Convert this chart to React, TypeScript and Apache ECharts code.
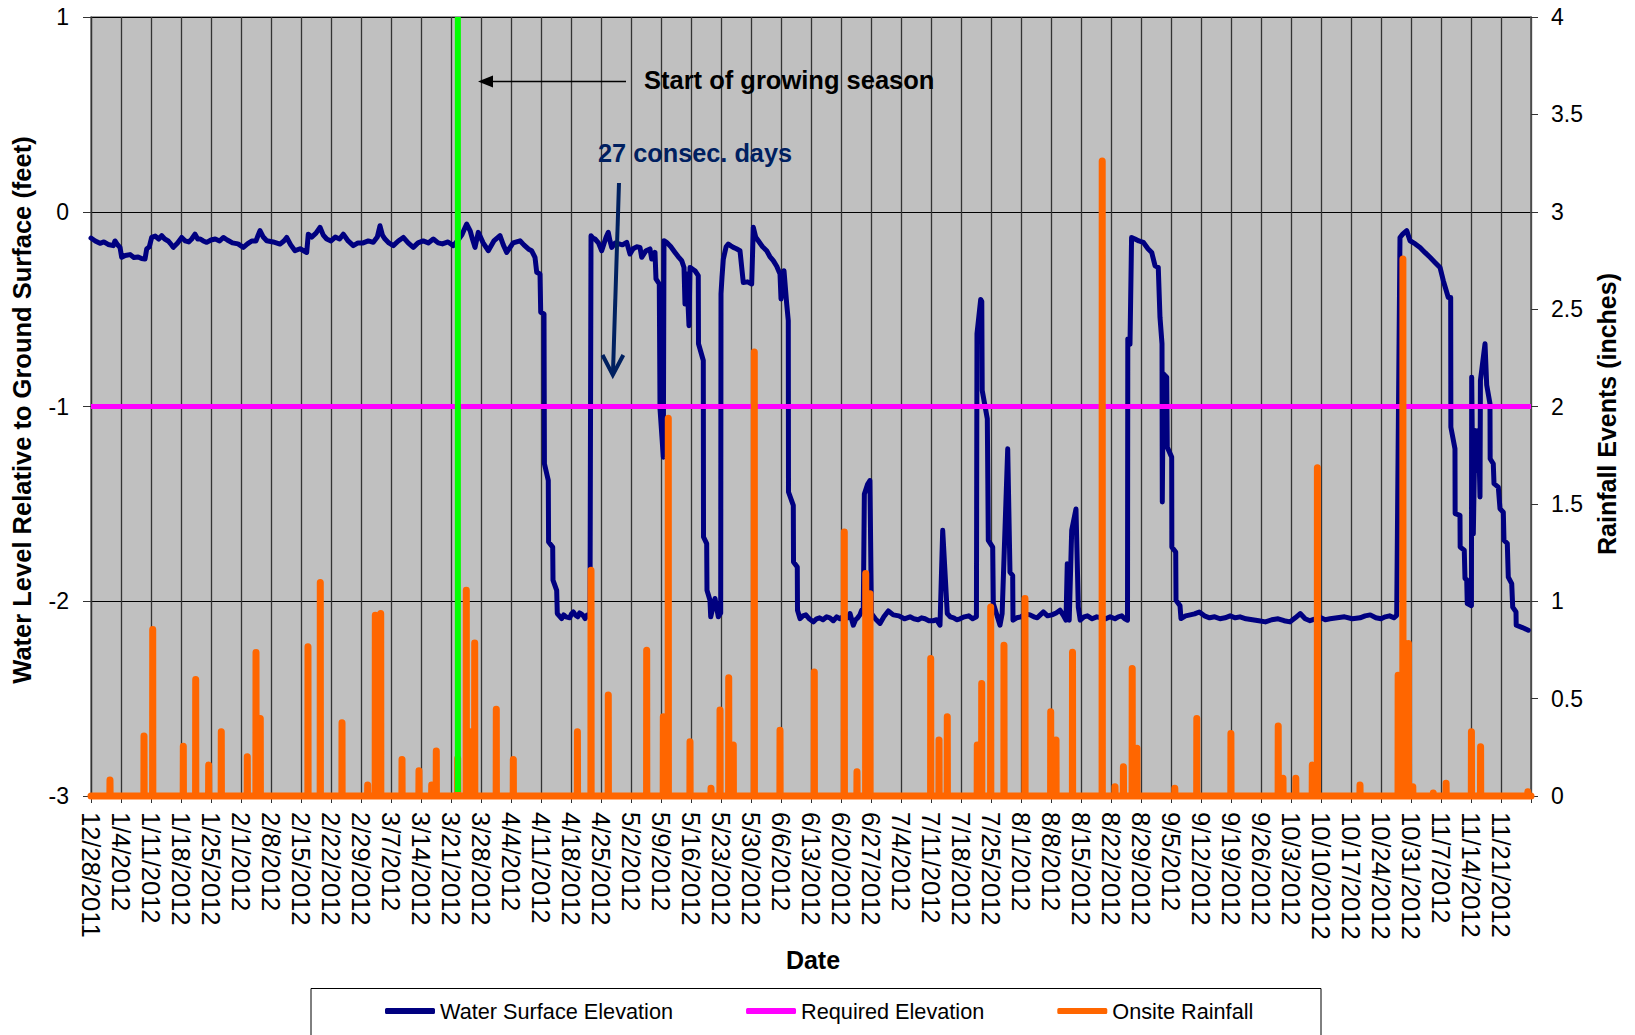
import React, { useEffect, useRef } from "react";
import * as echarts from "echarts";

// Tick labels: one per week, starting 12/28/2011
const weekLabels = [
  "12/28/2011", "1/4/2012", "1/11/2012", "1/18/2012", "1/25/2012", "2/1/2012", "2/8/2012",
  "2/15/2012", "2/22/2012", "2/29/2012", "3/7/2012", "3/14/2012", "3/21/2012", "3/28/2012",
  "4/4/2012", "4/11/2012", "4/18/2012", "4/25/2012", "5/2/2012", "5/9/2012", "5/16/2012",
  "5/23/2012", "5/30/2012", "6/6/2012", "6/13/2012", "6/20/2012", "6/27/2012", "7/4/2012",
  "7/11/2012", "7/18/2012", "7/25/2012", "8/1/2012", "8/8/2012", "8/15/2012", "8/22/2012",
  "8/29/2012", "9/5/2012", "9/12/2012", "9/19/2012", "9/26/2012", "10/3/2012", "10/10/2012",
  "10/17/2012", "10/24/2012", "10/31/2012", "11/7/2012", "11/14/2012", "11/21/2012",
];
const axisDayMax = 336; // days after 12/28/2011 shown on the axis

// Water surface elevation: [days after 12/28/2011, feet relative to ground]
const waterLevel: [number, number][] = [
  [0, -0.135], [1.0, -0.15], [2.1, -0.162], [3.0, -0.155], [4.0, -0.168], [5.2, -0.174], [5.6, -0.15],
  [6.2, -0.17], [6.77, -0.183], [7.16, -0.234], [8.0, -0.225], [9.1, -0.22], [10.0, -0.235],
  [11.0, -0.232], [11.8, -0.24], [12.6, -0.243], [13.0, -0.191], [13.6, -0.18], [14.16, -0.132],
  [15.0, -0.125], [15.8, -0.14], [16.5, -0.123], [17.2, -0.14], [18.0, -0.15], [18.6, -0.165],
  [19.2, -0.183], [20.2, -0.16], [21.16, -0.132], [22.0, -0.15], [22.8, -0.155], [23.5, -0.14],
  [24.27, -0.115], [24.9, -0.14], [25.5, -0.14], [26.2, -0.15], [27.0, -0.157], [28.0, -0.145],
  [29.0, -0.14], [30.0, -0.15], [30.87, -0.132], [31.8, -0.145], [33.0, -0.16], [34.3, -0.165],
  [35.54, -0.183], [36.5, -0.165], [37.5, -0.15], [38.5, -0.15], [39.0, -0.12], [39.43, -0.097],
  [40.2, -0.13], [41.0, -0.149], [42.5, -0.155], [44.1, -0.166], [45.0, -0.15], [45.66, -0.132],
  [46.6, -0.17], [47.6, -0.2], [48.8, -0.19], [50.33, -0.209], [50.7, -0.115], [51.5, -0.13],
  [52.5, -0.11], [53.43, -0.08], [54.2, -0.12], [55.0, -0.14], [56.0, -0.15], [57.0, -0.13],
  [58.0, -0.14], [58.87, -0.115], [60.0, -0.15], [61.2, -0.174], [62.3, -0.16], [63.5, -0.16],
  [64.7, -0.15], [65.87, -0.157], [66.8, -0.13], [67.43, -0.072], [68.0, -0.12], [68.6, -0.14],
  [69.5, -0.16], [70.54, -0.174], [71.7, -0.15], [72.87, -0.132], [74.0, -0.16], [75.2, -0.183],
  [76.3, -0.16], [77.5, -0.15], [78.7, -0.16], [79.87, -0.14], [81.0, -0.16], [82.0, -0.165],
  [83.3, -0.155], [84.54, -0.174], [85.5, -0.15], [86.5, -0.12], [87.66, -0.063], [88.5, -0.1],
  [89.0, -0.14], [89.6, -0.183], [90.37, -0.106], [91.5, -0.16], [92.7, -0.2], [94.0, -0.15],
  [95.43, -0.123], [96.2, -0.17], [97.0, -0.209], [98.5, -0.16], [100.1, -0.149], [101.0, -0.17],
  [102.04, -0.191], [102.8, -0.2], [103.6, -0.234], [104.0, -0.311], [104.77, -0.32],
  [104.93, -0.516], [105.7, -0.525], [105.8, -1.294], [106.7, -1.379], [106.77, -1.696],
  [107.73, -1.722], [107.8, -1.892], [108.66, -1.944], [108.8, -2.063], [109.83, -2.089],
  [110.3, -2.07], [110.8, -2.08], [111.7, -2.085], [112.1, -2.065], [112.54, -2.055], [113.0, -2.07],
  [113.6, -2.08], [114.0, -2.06], [114.4, -2.065], [114.9, -2.075], [115.27, -2.089], [115.8, -2.07],
  [116.43, -2.07], [116.67, -0.123], [117.1, -0.135], [117.6, -0.14], [118.4, -0.16], [119.16, -0.2],
  [119.6, -0.17], [120.2, -0.13], [120.7, -0.106], [121.1, -0.15], [121.5, -0.183], [122.3, -0.16],
  [123.2, -0.165], [124.0, -0.17], [125.0, -0.157], [125.77, -0.217], [126.5, -0.19], [127.3, -0.18],
  [128.1, -0.183], [128.5, -0.234], [129.5, -0.2], [130.43, -0.191], [130.83, -0.243],
  [131.6, -0.209], [131.83, -0.345], [132.6, -0.371], [132.77, -1.012], [133.54, -1.26],
  [133.7, -0.149], [134.33, -0.157], [135.3, -0.18], [136.27, -0.209], [137.0, -0.23],
  [137.83, -0.251], [138.37, -0.286], [138.6, -0.474], [139.0, -0.32], [139.53, -0.585],
  [139.77, -0.286], [140.93, -0.303], [141.7, -0.328], [141.75, -0.678], [142.87, -0.764],
  [142.92, -1.67], [143.66, -1.704], [143.73, -1.944], [144.43, -1.995], [144.6, -2.08],
  [145.6, -1.986], [146.37, -2.08], [146.93, -2.06], [147.0, -0.422], [147.23, -0.337],
  [147.54, -0.243], [148.2, -0.18], [148.7, -0.166], [149.3, -0.175], [149.87, -0.183],
  [150.6, -0.19], [151.43, -0.2], [152.2, -0.363], [153.2, -0.36], [154.16, -0.371], [154.54, -0.08],
  [155.1, -0.13], [155.7, -0.149], [156.7, -0.18], [157.66, -0.2], [158.4, -0.23], [159.2, -0.251],
  [160.0, -0.28], [160.77, -0.32], [161.0, -0.448], [161.7, -0.303], [162.33, -0.474],
  [162.7, -0.559], [162.75, -1.439], [163.87, -1.508], [163.92, -1.798], [164.8, -1.824],
  [164.85, -2.046], [165.43, -2.089], [166.1, -2.075], [166.8, -2.07], [167.6, -2.09],
  [168.54, -2.106], [169.3, -2.09], [170.0, -2.085], [170.8, -2.095], [171.66, -2.08],
  [172.4, -2.085], [173.2, -2.1], [174.0, -2.08], [174.77, -2.09], [175.4, -2.08], [176.0, -2.075],
  [176.6, -2.085], [177.1, -2.063], [177.87, -2.123], [178.4, -2.095], [178.9, -2.085],
  [179.4, -2.07], [179.83, -2.046], [180.2, -2.05], [180.45, -1.45], [181.2, -1.4], [181.75, -1.38],
  [182.1, -2.063], [183.0, -2.09], [184.1, -2.114], [185.0, -2.08], [186.04, -2.05], [187.2, -2.07],
  [188.5, -2.075], [189.8, -2.09], [191.1, -2.08], [192.0, -2.09], [193.0, -2.095], [193.8, -2.085],
  [194.6, -2.09], [195.5, -2.1], [196.5, -2.1], [197.3, -2.095], [198.1, -2.123], [198.73, -1.636],
  [199.8, -2.063], [200.5, -2.08], [201.3, -2.085], [202.0, -2.095], [202.77, -2.09], [203.8, -2.08],
  [204.8, -2.075], [205.7, -2.09], [206.6, -2.08], [206.73, -0.627], [207.6, -0.45], [207.85, -0.46],
  [207.95, -0.918], [209.14, -1.063], [209.37, -1.687], [210.4, -1.722], [210.54, -2.012],
  [212.1, -2.123], [212.6, -2.063], [213.9, -1.217], [214.43, -1.851], [215.06, -1.868],
  [215.13, -2.097], [216.0, -2.085], [217.0, -2.08], [218.0, -2.065], [219.1, -2.07], [220.0, -2.08],
  [220.8, -2.085], [221.5, -2.07], [222.2, -2.055], [223.2, -2.075], [224.2, -2.07], [225.2, -2.06],
  [226.1, -2.046], [226.8, -2.07], [227.5, -2.097], [227.8, -1.807], [228.25, -2.097],
  [228.83, -1.636], [229.83, -1.526], [230.37, -2.03], [230.82, -2.097], [231.7, -2.08],
  [232.5, -2.075], [233.6, -2.09], [234.67, -2.08], [235.7, -2.085], [236.8, -2.09], [237.8, -2.08],
  [238.93, -2.09], [239.7, -2.08], [240.5, -2.075], [241.2, -2.09], [241.85, -2.097],
  [241.92, -0.653], [242.43, -0.68], [242.8, -0.132], [243.6, -0.14], [244.5, -0.15],
  [245.53, -0.157], [246.63, -0.19], [247.5, -0.209], [248.27, -0.277], [249.03, -0.286],
  [249.43, -0.542], [249.9, -0.678], [249.97, -1.49], [250.2, -0.832], [251.0, -0.85],
  [251.13, -1.209], [252.16, -1.26], [252.2, -1.722], [253.1, -1.747], [253.17, -1.995],
  [254.1, -2.023], [254.33, -2.089], [255.4, -2.075], [256.5, -2.07], [257.5, -2.065],
  [258.6, -2.055], [259.8, -2.075], [261.0, -2.085], [262.2, -2.08], [263.43, -2.09],
  [264.6, -2.085], [265.8, -2.075], [267.0, -2.085], [268.1, -2.08], [269.5, -2.09], [271.0, -2.095],
  [272.5, -2.1], [274.03, -2.106], [275.5, -2.095], [277.0, -2.09], [278.4, -2.1], [279.77, -2.106],
  [281.0, -2.085], [282.15, -2.063], [283.3, -2.09], [284.43, -2.1], [285.7, -2.09], [287.0, -2.085],
  [288.0, -2.095], [289.1, -2.09], [290.8, -2.085], [292.5, -2.08], [294.3, -2.09], [296.1, -2.085],
  [297.3, -2.075], [298.5, -2.07], [299.8, -2.085], [301.0, -2.09], [302.0, -2.08], [303.0, -2.075],
  [304.0, -2.085], [304.66, -2.072], [305.43, -0.132], [306.06, -0.115], [307.0, -0.097],
  [307.77, -0.149], [309.0, -0.165], [310.1, -0.183], [311.3, -0.21], [312.43, -0.234],
  [313.6, -0.26], [314.77, -0.286], [315.54, -0.354], [316.7, -0.44], [317.26, -0.44],
  [317.3, -1.106], [318.26, -1.217], [318.3, -1.55], [319.43, -1.559], [319.47, -1.722],
  [320.43, -1.738], [320.6, -1.883], [321.0, -1.89], [321.13, -2.012], [322.1, -2.023],
  [322.16, -0.85], [322.54, -1.654], [322.93, -1.123], [323.47, -1.328], [323.75, -1.123],
  [324.1, -1.465], [324.2, -0.867], [325.27, -0.678], [325.66, -0.889], [326.43, -0.986],
  [326.47, -1.268], [327.2, -1.294], [327.37, -1.396], [328.37, -1.414], [328.77, -1.525],
  [329.54, -1.543], [329.7, -1.687], [330.47, -1.704], [330.7, -1.876], [331.5, -1.91],
  [331.73, -2.03], [332.5, -2.055], [332.55, -2.123], [334.0, -2.135], [335.37, -2.149],
];

// Onsite rainfall events (inches), x in days after 12/28/2011
const rainDay = [
  4.43, 12.37, 14.4, 21.54, 24.43, 27.46, 30.4, 36.47, 38.5, 39.5, 50.63, 53.5, 58.57, 64.56, 66.34,
  67.6, 72.57, 76.53, 79.5, 80.57, 85.56, 87.57, 88.43, 89.53, 94.57, 98.54, 113.5, 116.67, 120.7,
  129.66, 133.54, 134.7, 139.77, 144.67, 146.77, 148.8, 149.87, 154.77, 160.77, 168.77, 175.77,
  178.73, 180.77, 181.77, 195.93, 197.87, 199.8, 206.8, 207.83, 209.93, 213.03, 217.93, 223.93,
  225.17, 229.02, 235.95, 238.93, 240.9, 242.95, 244.07, 252.89, 258.02, 265.98, 277.02, 278.13,
  281.12, 284.97, 286.16, 296.1, 305.0, 306.11, 307.4, 308.42, 313.2, 316.19, 322.1, 324.24, 335.27,
];
const rainIn = [
  0.082, 0.308, 0.855, 0.256, 0.598, 0.159, 0.33, 0.202, 0.737, 0.398, 0.766, 1.096, 0.376, 0.056, 0.928,
  0.937, 0.188, 0.13, 0.056, 0.231, 0.193, 1.056, 0.33, 0.786, 0.446, 0.188, 0.33, 1.159, 0.518,
  0.749, 0.407, 1.94, 0.279, 0.04, 0.441, 0.607, 0.262, 2.28, 0.338, 0.637, 1.355,
  0.125, 1.142, 1.039, 0.706, 0.287, 0.407, 0.262, 0.578, 0.971, 0.774, 1.014, 0.432,
  0.287, 0.738, 3.26, 0.048, 0.15, 0.655, 0.245, 0.04, 0.398, 0.321, 0.359, 0.091,
  0.091, 0.159, 1.686, 0.056, 0.62, 2.757, 0.783, 0.048, 0.015, 0.065, 0.33, 0.253, 0.022,
];

// Required elevation (feet)
const requiredDay = [0, axisDayMax];
const requiredFt = [-1, -1];

// Start of growing season marker
const growingSeasonDay = [85.6, 85.6];
const growingSeasonFt = [-2.98, 1];

const FONT = "'Liberation Sans', Arial, Helvetica, sans-serif";

export default function App() {
  const ref = useRef<HTMLDivElement | null>(null);

  useEffect(() => {
    if (!ref.current) return;
    const chart = echarts.init(ref.current, null, { renderer: "svg" });

    const levelData = waterLevel.map((p) => [p[0], p[1]]);
    const requiredData = requiredDay.map((d, i) => [d, requiredFt[i]]);
    const growingData = growingSeasonDay.map((d, i) => [d, growingSeasonFt[i]]);
    const rainData: number[][] = [[0, 0]];
    rainDay.forEach((d, i) => {
      rainData.push([d - 0.03, 0], [d, rainIn[i]], [d + 0.03, 0]);
    });
    rainData.push([axisDayMax, 0]);

    const navy = "#000080";
    const dark = "#002060";

    chart.setOption({
      animation: false,
      backgroundColor: "#ffffff",
      textStyle: { fontFamily: FONT },
      grid: {
        left: 91,
        top: 17,
        width: 1440,
        height: 779,
        show: true,
        backgroundColor: "#C0C0C0",
        borderColor: "#808080",
        borderWidth: 1.5,
      },
      legend: {
        data: ["Water Surface Elevation", "Required Elevation", "Onsite Rainfall"],
        left: 385,
        top: 999,
        padding: 0,
        itemGap: 73,
        itemWidth: 50,
        itemHeight: 6,
        icon: "roundRect",
        selectedMode: false,
        textStyle: { fontSize: 21.7, fontFamily: FONT, color: "#000", lineHeight: 24 },
      },
      xAxis: {
        type: "value",
        min: 0,
        max: axisDayMax,
        interval: 7,
        axisLine: { show: true, onZero: false, lineStyle: { color: "#333", width: 1 } },
        axisTick: { show: true, length: 7, lineStyle: { color: "#333", width: 1 } },
        splitLine: { show: true, lineStyle: { color: "#333", width: 1.3 } },
        axisLabel: {
          rotate: -90,
          margin: 16,
          fontSize: 25.5,
          fontFamily: FONT,
          color: "#000",
          formatter: (v: number) => {
            const i = Math.round(v / 7);
            return weekLabels[i] ?? "";
          },
        },
      },
      yAxis: [
        {
          type: "value",
          min: -3,
          max: 1,
          interval: 1,
          position: "left",
          axisLine: { show: true, lineStyle: { color: "#333", width: 1.2 } },
          axisTick: { show: true, length: 8, lineStyle: { color: "#333" } },
          splitLine: { show: true, lineStyle: { color: "#000", width: 1 } },
          axisLabel: { margin: 22, fontSize: 23, fontFamily: FONT, color: "#000" },
        },
        {
          type: "value",
          min: 0,
          max: 4,
          interval: 0.5,
          position: "right",
          axisLine: { show: true, lineStyle: { color: "#555", width: 1.5 } },
          axisTick: { show: true, length: 7, lineStyle: { color: "#333" } },
          splitLine: { show: false },
          axisLabel: { margin: 20, fontSize: 23, fontFamily: FONT, color: "#000" },
        },
      ],
      series: [
        {
          name: "Water Surface Elevation",
          type: "line",
          yAxisIndex: 0,
          data: levelData,
          showSymbol: false,
          symbol: "none",
          itemStyle: { color: navy },
          lineStyle: { color: navy, width: 5, join: "round", cap: "round" },
          z: 2,
        },
        {
          name: "Required Elevation",
          type: "line",
          yAxisIndex: 0,
          data: requiredData,
          showSymbol: false,
          symbol: "none",
          itemStyle: { color: "#FF00FF" },
          lineStyle: { color: "#FF00FF", width: 5 },
          z: 3,
        },
        {
          name: "Onsite Rainfall",
          type: "line",
          yAxisIndex: 1,
          data: rainData,
          showSymbol: false,
          symbol: "none",
          clip: false,
          itemStyle: { color: "#FF6600" },
          lineStyle: { color: "#FF6600", width: 7, join: "round", cap: "round" },
          z: 4,
        },
        {
          name: "Start of growing season",
          type: "line",
          yAxisIndex: 0,
          data: growingData,
          showSymbol: false,
          symbol: "none",
          itemStyle: { color: "#00FF00" },
          lineStyle: { color: "#00FF00", width: 6 },
          z: 5,
        },
      ],
      graphic: [
        {
          type: "rect",
          z: 0,
          shape: { x: 311, y: 988.5, width: 1010, height: 70 },
          style: { fill: "#ffffff", stroke: "#000000", lineWidth: 1 },
        },
        {
          type: "text",
          z: 10,
          x: 22,
          y: 410,
          rotation: Math.PI / 2,
          style: {
            text: "Water Level Relative to Ground Surface (feet)",
            font: `bold 25.5px ${FONT}`,
            fill: "#000",
            align: "center",
            verticalAlign: "middle",
            textAlign: "center",
            textVerticalAlign: "middle",
          },
        },
        {
          type: "text",
          z: 10,
          x: 1607,
          y: 414,
          rotation: Math.PI / 2,
          style: {
            text: "Rainfall Events (inches)",
            font: `bold 25px ${FONT}`,
            fill: "#000",
            align: "center",
            verticalAlign: "middle",
            textAlign: "center",
            textVerticalAlign: "middle",
          },
        },
        {
          type: "text",
          z: 10,
          x: 813,
          y: 960,
          style: {
            text: "Date",
            font: `bold 25px ${FONT}`,
            fill: "#000",
            align: "center",
            verticalAlign: "middle",
            textAlign: "center",
            textVerticalAlign: "middle",
          },
        },
        {
          type: "text",
          z: 10,
          x: 644,
          y: 80,
          style: {
            text: "Start of growing season",
            font: `bold 25.5px ${FONT}`,
            fill: "#000",
            align: "left",
            verticalAlign: "middle",
            textAlign: "left",
            textVerticalAlign: "middle",
          },
        },
        {
          type: "line",
          z: 10,
          shape: { x1: 626, y1: 81.5, x2: 490, y2: 81.5 },
          style: { stroke: "#000", lineWidth: 1.5 },
        },
        {
          type: "polygon",
          z: 10,
          shape: { points: [[478, 81.5], [493, 75.5], [493, 87.5]] },
          style: { fill: "#000" },
        },
        {
          type: "text",
          z: 10,
          x: 598,
          y: 153,
          style: {
            text: "27 consec. days",
            font: `bold 25.3px ${FONT}`,
            fill: dark,
            align: "left",
            verticalAlign: "middle",
            textAlign: "left",
            textVerticalAlign: "middle",
          },
        },
        {
          type: "line",
          z: 10,
          shape: { x1: 619, y1: 183, x2: 613, y2: 372 },
          style: { stroke: dark, lineWidth: 4 },
        },
        {
          type: "polyline",
          z: 10,
          shape: { points: [[602.5, 355], [612.8, 375], [623.3, 355]] },
          style: { stroke: dark, lineWidth: 4, fill: "none" },
        },
      ],
    });

    return () => {
      chart.dispose();
    };
  }, []);

  return (
    <div
      ref={ref}
      style={{ position: "absolute", left: 0, top: 0, width: 1635, height: 1035 }}
    />
  );
}
